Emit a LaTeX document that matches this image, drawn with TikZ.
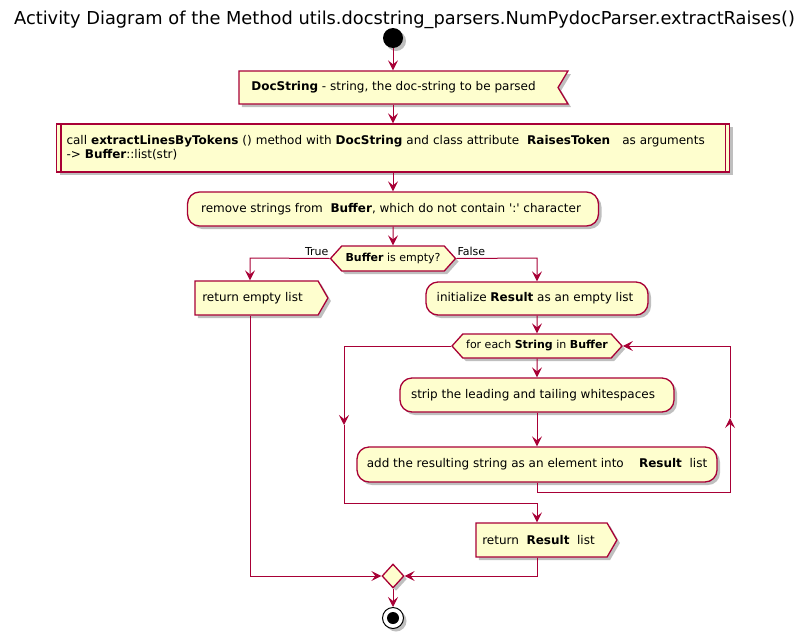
\documentclass[tikz,border=0pt]{standalone}
\usepackage{fontspec}
\setmainfont{DejaVu Sans}
\usepackage{tikz}
\usepackage{tkz-euclide}
\usepackage{xcolor}
\usetikzlibrary{shapes.geometric,shapes.symbols,shadows,arrows.meta}

\definecolor{umlline}{HTML}{A80036}
\definecolor{umlfill}{HTML}{FEFECE}

\tikzset{
    boxtext/.style={font=\fontsize{12}{14}\selectfont},
    umlshadow/.style={drop shadow={shadow xshift=3pt,shadow yshift=-3pt,opacity=0.25,fill=black}},
    actbox/.style={boxtext,draw=umlline,fill=umlfill,line width=1.3pt,umlshadow,inner sep=0pt,align=center},
    roundbox/.style={actbox,rounded corners=12pt},
    inbox/.style={actbox,signal,signal from=east,signal to=nowhere,signal pointer angle=118},
    outbox/.style={actbox,signal,signal to=east,signal pointer angle=120},
    hexbox/.style={actbox,font=\fontsize{11}{13}\selectfont,signal,signal to=east and west,signal pointer angle=96},
    flow/.style={draw=umlline,line width=1pt,-{Stealth[length=10pt,width=10pt,inset=4pt]}},
    guard/.style={font=\fontsize{11}{13}\selectfont,inner sep=1pt},
}

\begin{document}
\begin{tikzpicture}[x=1pt,y=-1pt]
    \useasboundingbox (0,0) rectangle (799,637);
    \tkzDefPoints{250/258/T1,250/576/T2,537/258/F1,344/346/L1,344/425/L2,344/503/L3,537/503/L4,537/492/R1,730/492/R2,730/418/R3,730/346/R4,537/576/M1}
    % \tkzDrawPoints(T1,T2,F1,L1,L2,L3,L4,R1,R2,R3,R4,M1)
    \node[font=\fontsize{17.8}{22}\selectfont] (title) at (404.5,20) {Activity Diagram of the Method utils.docstring\_parsers.NumPydocParser.extractRaises()};
    \node[circle,fill=black,minimum size=20pt,inner sep=0pt,umlshadow] (start) at (393,38) {};
    \node[inbox,minimum width=329pt,minimum height=33pt] (doc) at (398.5,87.5) {\textbf{DocString} - string, the doc-string to be parsed\hspace*{10pt}};
    \node[actbox,align=left,text width=653pt,inner xsep=10pt,minimum height=48pt] (call) at (393,148)
        {call \textbf{extractLinesByTokens} () method with \textbf{DocString} and class attribute\ \ \textbf{RaisesToken}\ \ \ as arguments\\-> \textbf{Buffer}::list(str)};
    \draw[umlline,line width=1.3pt] ([xshift=5pt]call.north west) -- ([xshift=5pt]call.south west)
        ([xshift=-5pt]call.north east) -- ([xshift=-5pt]call.south east);
    \node[roundbox,minimum width=411pt,minimum height=34pt] (remove) at (393,209) {remove strings from\ \ \textbf{Buffer}, which do not contain \textquotesingle:\textquotesingle\ character\hspace*{4pt}};
    \node[hexbox,minimum width=125pt,minimum height=25pt] (dec) at (393,258.5) {\textbf{Buffer} is empty?};
    \node[guard,anchor=south east] (yes) at ([yshift=2pt]dec.west) {True};
    \node[guard,anchor=south west] (no) at ([yshift=2pt]dec.east) {False};
    \node[outbox,minimum width=133pt,minimum height=34pt] (ret1) at (256.5,298) {return empty list\hspace*{8pt}};
    \node[roundbox,minimum width=222pt,minimum height=33pt] (init) at (537,298.5) {initialize \textbf{Result} as an empty list\hspace*{4pt}};
    \node[hexbox,minimum width=170pt,minimum height=24pt] (each) at (537,346) {for each \textbf{String} in \textbf{Buffer}};
    \node[roundbox,minimum width=274pt,minimum height=34pt] (strip) at (537,395) {strip the leading and tailing whitespaces\hspace*{8pt}};
    \node[roundbox,minimum width=360pt,minimum height=35pt] (add) at (537,464.5) {add the resulting string as an element into\ \ \ \ \textbf{Result}\ \ list};
    \node[outbox,minimum width=141pt,minimum height=34pt] (ret2) at (541.5,540) {return\ \ \textbf{Result}\ \ list\hspace*{6pt}};
    \node[diamond,draw=umlline,fill=umlfill,line width=1.3pt,minimum width=22pt,minimum height=24pt,inner sep=0pt,umlshadow] (merge) at (393,576) {};
    \node[circle,draw=black,fill=white,line width=1pt,minimum size=21pt,inner sep=0pt,umlshadow,
        path picture={\fill[black] (path picture bounding box.center) circle (6pt);}] (stop) at (393,618) {};
    % main line
    \draw[flow] (start) -- (start |- doc.north);
    \draw[flow] (start |- doc.south) -- (call);
    \draw[flow] (call) -- (remove);
    \draw[flow] (remove) -- (dec);
    \draw[flow] (dec.west) -- (T1) -- (T1 |- ret1.north);
    \draw[flow] (dec.east) -- (F1) -- (init);
    \draw[flow] (init) -- (each);
    \draw[flow] (each) -- (strip);
    \draw[flow] (strip) -- (add);
    % loop back and exit
    \draw[flow] (add.south) -- (R1) -- (R2) -- (R3);
    \draw[flow] (R3) -- (R4) -- (each.east);
    \draw[flow] (each.west) -- (L1) -- (L2);
    \draw[flow] (L2) -- (L3) -- (L4) -- (L4 |- ret2.north);
    \draw[flow] (T1 |- ret1.south) -- (T2) -- (merge);
    \draw[flow] (M1 |- ret2.south) -- (M1) -- (merge);
    \draw[flow] (merge) -- (stop);
\end{tikzpicture}
\end{document}
